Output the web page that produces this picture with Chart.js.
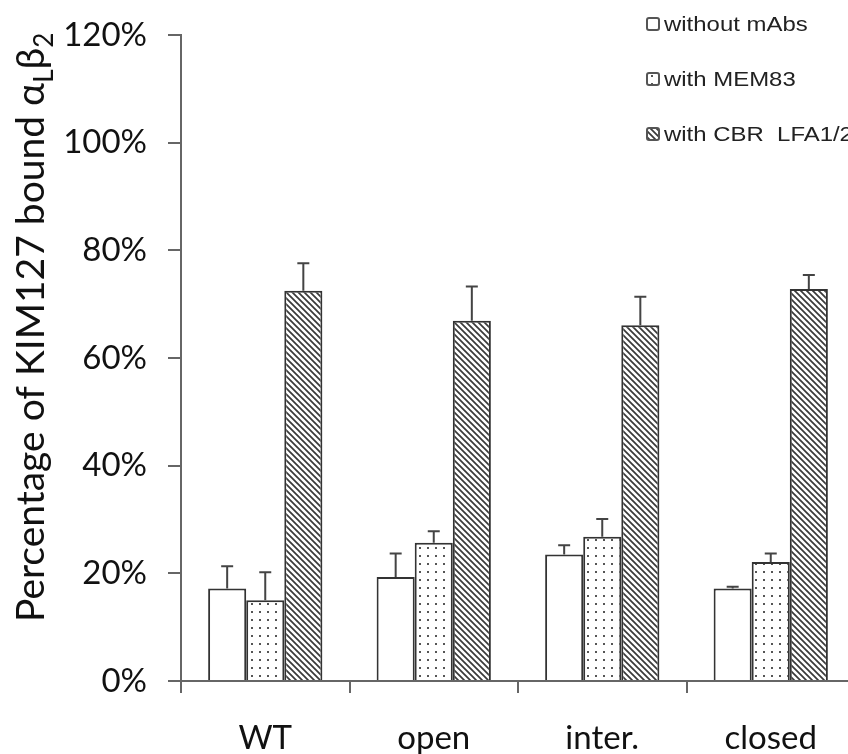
<!DOCTYPE html>
<html>
<head>
<meta charset="utf-8">
<script src="https://cdn.jsdelivr.net/npm/chart.js@4/dist/chart.umd.min.js"></script>
<style>
  html, body { margin: 0; padding: 0; background: #fff; overflow: hidden; }
  #wrap { width: 848px; height: 754px; overflow: hidden; }
  canvas { display: block; }
</style>
</head>
<body>
<div id="wrap"><canvas id="c" width="856" height="754"></canvas></div>
<script>
// Receptor variants on the x axis
const categories = ['WT', 'open', 'inter.', 'closed'];

// Series labels
const seriesNames = ['without mAbs', 'with MEM83', 'with CBR  LFA1/2'];

// Mean percentage of KIM127-bound alphaL beta2 per variant
const withoutMAbs = [17.2, 19.3, 23.5, 17.2];
const withMEM83   = [15.0, 25.7, 26.8, 22.1];
const withCBR     = [72.5, 66.9, 66.1, 72.8];

// Upper error (SD) for each bar
const errWithout = [4.1, 4.4, 1.7, 0.3];
const errMEM83   = [5.2, 2.1, 3.3, 1.6];
const errCBR     = [5.1, 6.4, 5.3, 2.6];

// Y axis tick values
const yTicks = [0, 20, 40, 60, 80, 100, 120];

const AXIS_FONT = 'Lato, "Open Sans", sans-serif';
const INK = '#333';

// Fill patterns for the bars
function makeDots() {
  const t = document.createElement('canvas');
  t.width = 8; t.height = 8;
  const g = t.getContext('2d');
  g.fillStyle = '#fff'; g.fillRect(0, 0, 8, 8);
  g.fillStyle = '#555'; g.fillRect(3, 3, 2, 2);
  return g.createPattern(t, 'repeat');
}
function makeHatch() {
  const s = 6;
  const t = document.createElement('canvas');
  t.width = s; t.height = s;
  const g = t.getContext('2d');
  g.fillStyle = '#fff'; g.fillRect(0, 0, s, s);
  g.strokeStyle = '#3a3a3a'; g.lineWidth = 1.7;
  g.beginPath();
  g.moveTo(-1, -1); g.lineTo(s + 1, s + 1);
  g.moveTo(-1, s - 1); g.lineTo(1, s + 1);
  g.moveTo(s - 1, -1); g.lineTo(s + 1, 1);
  g.stroke();
  return g.createPattern(t, 'repeat');
}
const fills = ['#ffffff', makeDots(), makeHatch()];

// Upward error bars with caps
const errorBars = {
  id: 'errorBars',
  afterDatasetsDraw(chart) {
    const { ctx } = chart;
    const y = chart.scales.y;
    ctx.save();
    ctx.strokeStyle = '#444';
    ctx.lineWidth = 2;
    chart.data.datasets.forEach((ds, i) => {
      const meta = chart.getDatasetMeta(i);
      meta.data.forEach((bar, j) => {
        const top = y.getPixelForValue(ds.data[j] + ds.errors[j]);
        const x = bar.x;
        ctx.beginPath();
        ctx.moveTo(x, bar.y);
        ctx.lineTo(x, top);
        ctx.moveTo(x - 6, top);
        ctx.lineTo(x + 6, top);
        ctx.stroke();
      });
    });
    ctx.restore();
  }
};

// Vertical axis title with subscripts
const yTitle = {
  id: 'yTitle',
  afterDraw(chart) {
    const { ctx } = chart;
    const parts = [
      { t: 'Percentage of KIM127 bound \u03B1', sub: false },
      { t: 'L', sub: true },
      { t: '\u03B2', sub: false },
      { t: '2', sub: true }
    ];
    ctx.save();
    ctx.translate(44, 622);
    ctx.rotate(-Math.PI / 2);
    ctx.fillStyle = '#111';
    ctx.textBaseline = 'alphabetic';
    ctx.textAlign = 'left';
    let x = 0;
    parts.forEach(p => {
      ctx.font = (p.sub ? '26px ' : '39px ') + AXIS_FONT;
      ctx.fillText(p.t, x, p.sub ? 9 : 0);
      x += ctx.measureText(p.t).width;
    });
    ctx.restore();
  }
};

// Stacked legend in the upper right corner
const cornerLegend = {
  id: 'cornerLegend',
  afterDraw(chart) {
    const { ctx } = chart;
    const rows = [24, 79, 134];
    ctx.save();
    chart.data.datasets.forEach((ds, i) => {
      const cy = rows[i];
      ctx.fillStyle = ds.backgroundColor;
      ctx.strokeStyle = '#555';
      ctx.lineWidth = 2;
      ctx.beginPath();
      ctx.roundRect(647, cy - 6, 12, 12, 2);
      ctx.fill();
      ctx.stroke();
      ctx.fillStyle = '#222';
      ctx.font = '21px "Liberation Sans", Arial, sans-serif';
      ctx.textBaseline = 'middle';
      ctx.save();
      ctx.translate(664, cy + 1);
      ctx.scale(1.14, 1);
      ctx.fillText(ds.label, 0, 0);
      ctx.restore();
    });
    ctx.restore();
  }
};

const seriesValues = [withoutMAbs, withMEM83, withCBR];
const seriesErrors = [errWithout, errMEM83, errCBR];

new Chart(document.getElementById('c'), {
  type: 'bar',
  data: {
    labels: categories,
    datasets: seriesNames.map((name, i) => ({
      label: name,
      data: seriesValues[i],
      errors: seriesErrors[i],
      backgroundColor: fills[i],
      borderColor: INK,
      borderWidth: 2,
      borderSkipped: 'start',
      categoryPercentage: 0.678,
      barPercentage: 1.0
    }))
  },
  options: {
    responsive: false,
    animation: false,
    devicePixelRatio: 1,
    layout: { padding: { top: 35, right: 1, bottom: 0, left: 0 } },
    plugins: {
      legend: { display: false },
      tooltip: { enabled: false },
      title: { display: false }
    },
    scales: {
      x: {
        grid: {
          offset: true,
          drawOnChartArea: false,
          drawTicks: true,
          tickLength: 12,
          color: '#666',
          lineWidth: 2
        },
        border: { display: true, color: '#666', width: 2 },
        ticks: {
          padding: 26,
          color: '#111',
          font: { family: AXIS_FONT, size: 33 }
        },
        afterFit(scale) { scale.height = 73; }
      },
      y: {
        min: 0,
        max: 120,
        afterBuildTicks(scale) { scale.ticks = yTicks.map(v => ({ value: v })); },
        grid: {
          drawOnChartArea: false,
          drawTicks: true,
          tickLength: 13,
          color: '#666',
          lineWidth: 2
        },
        border: { display: true, color: '#666', width: 2 },
        ticks: {
          padding: 21,
          color: '#111',
          font: { family: AXIS_FONT, size: 33 },
          callback: v => v + '%'
        },
        afterFit(scale) {
          scale.width = 181;
          scale.paddingTop = 0;
          scale.paddingBottom = 0;
        }
      }
    }
  },
  plugins: [errorBars, yTitle, cornerLegend]
});
</script>
</body>
</html>
